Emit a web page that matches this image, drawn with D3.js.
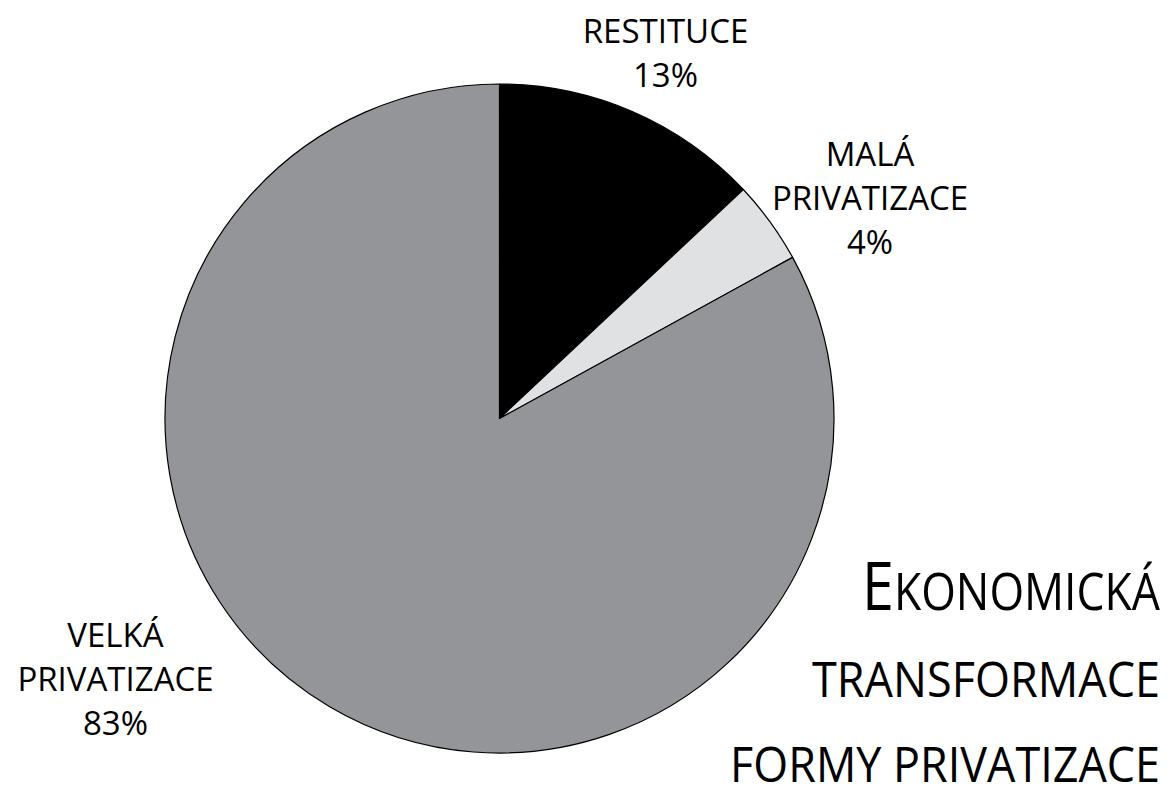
<!DOCTYPE html>
<html><head><meta charset="utf-8">
<script src="https://cdn.jsdelivr.net/npm/d3@7"></script>
<style>html,body{margin:0;padding:0;background:#fff;}svg{display:block;}</style>
</head><body>
<svg id="c" width="1172" height="788"></svg>
<script>
const categories = ["RESTITUCE", "MALÁ PRIVATIZACE", "VELKÁ PRIVATIZACE"];
const values = [13, 4, 83];
const labelLines = [["RESTITUCE", "13%"], ["MALÁ", "PRIVATIZACE", "4%"], ["VELKÁ", "PRIVATIZACE", "83%"]];
const colors = ["#000000", "#e0e1e3", "#939598"];
const titleLines = ["TRANSFORMACE", "FORMY PRIVATIZACE"];

const svg = d3.select("#c");
const cx = 499.5, cy = 418.5, r = 334.5;
const font = "'Open Sans', sans-serif";

const data = categories.map((c, i) => ({c, v: values[i], i}));
const pie = d3.pie().sort(null).value(d => d.v);
const arc = d3.arc().innerRadius(0).outerRadius(r);

svg.append("g").attr("transform", `translate(${cx},${cy})`)
  .selectAll("path").data(pie(data)).join("path")
  .attr("d", arc).attr("fill", d => colors[d.data.i])
  .attr("stroke", "#000").attr("stroke-width", 1.2).attr("stroke-linejoin", "round");

// label anchors (center x, first baseline)
const labelPos = [[665.5, 43], [870, 166], [115.5, 647]];
const lineH = 44;
labelLines.forEach((lines, i) => {
  const t = svg.append("text").attr("text-anchor", "middle")
    .attr("font-family", font).attr("font-size", 33).attr("fill", "#000");
  lines.forEach((l, j) => {
    t.append("tspan").attr("x", labelPos[i][0]).attr("y", labelPos[i][1] + j * lineH).text(l);
  });
});

// title (right-aligned, horizontally fitted to the reference widths)
const rightX = 1160;
function fit(sel, y, width) {
  const w = sel.node().getComputedTextLength();
  sel.attr("transform", `translate(${rightX},${y}) scale(${width / w},1)`);
}
const t1 = svg.append("text").attr("x", 0).attr("y", 0).attr("text-anchor", "end")
  .attr("font-family", font).attr("fill", "#000");
t1.append("tspan").attr("font-size", 67).text("E");
t1.append("tspan").attr("font-size", 52).text("KONOMICKÁ");
fit(t1, 610, 298);
const titleY = [697, 782], titleW = [348, 430];
titleLines.forEach((l, j) => {
  const t = svg.append("text").attr("x", 0).attr("y", 0).attr("text-anchor", "end")
    .attr("font-family", font).attr("font-size", 49).attr("fill", "#000").text(l);
  fit(t, titleY[j], titleW[j]);
});
</script>
</body></html>
